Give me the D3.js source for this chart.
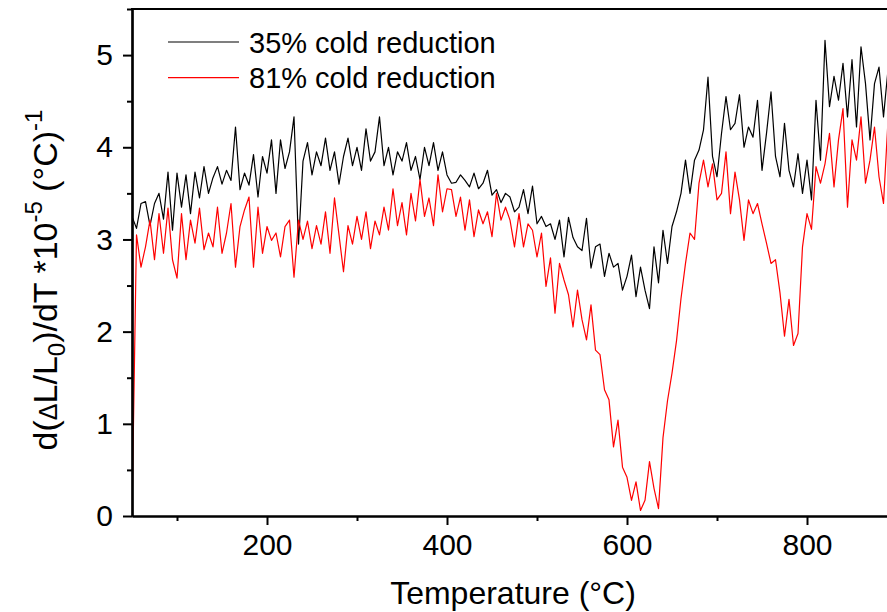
<!DOCTYPE html>
<html>
<head>
<meta charset="utf-8">
<script src="https://cdn.jsdelivr.net/npm/d3@7"></script>
<style>
body { margin: 0; background: #fff; }
text { font-family: Arial, "Liberation Sans", sans-serif; fill: #000; }
</style>
</head>
<body>
<svg></svg>
<script>
// temperature grid (°C) read along the x axis
var temps = [
    50, 55, 60, 65, 70, 75, 80, 85, 90, 95,
    100, 105, 110, 115, 120, 125, 130, 135, 140, 145,
    150, 155, 160, 165, 170, 175, 180, 185, 190, 195,
    200, 205, 210, 215, 220, 225, 230, 235, 240, 245,
    250, 255, 260, 265, 270, 275, 280, 285, 290, 295,
    300, 305, 310, 315, 320, 325, 330, 335, 340, 345,
    350, 355, 360, 365, 370, 375, 380, 385, 390, 395,
    400, 405, 410, 415, 420, 425, 430, 435, 440, 445,
    450, 455, 460, 465, 470, 475, 480, 485, 490, 495,
    500, 505, 510, 515, 520, 525, 530, 535, 540, 545,
    550, 555, 560, 565, 570, 575, 580, 585, 590, 595,
    600, 605, 610, 615, 620, 625, 630, 635, 640, 645,
    650, 655, 660, 665, 670, 675, 680, 685, 690, 695,
    700, 705, 710, 715, 720, 725, 730, 735, 740, 745,
    750, 755, 760, 765, 770, 775, 780, 785, 790, 795,
    800, 805, 810, 815, 820, 825, 830, 835, 840, 845,
    850, 855, 860, 865, 870, 875, 880, 885, 890
];

// 35% cold reduction
var cold35 = [
    3.25, 3.12, 3.39, 3.41, 3.15, 3.39, 3.50, 3.22, 3.73, 3.10,
    3.72, 3.35, 3.70, 3.28, 3.73, 3.45, 3.79, 3.50, 3.67, 3.79,
    3.60, 3.75, 3.64, 4.22, 3.54, 3.72, 3.59, 3.92, 3.46, 3.90,
    3.72, 4.08, 3.50, 4.08, 3.77, 3.95, 4.33, 2.95, 3.85, 4.05,
    3.70, 3.95, 3.80, 4.10, 3.75, 3.95, 3.60, 3.90, 4.10, 3.80,
    4.00, 3.75, 4.20, 3.85, 3.95, 4.33, 3.80, 4.00, 3.70, 3.95,
    3.85, 4.05, 3.75, 3.90, 3.65, 4.00, 3.80, 4.05, 3.75, 3.95,
    3.70, 3.61, 3.62, 3.70, 3.64, 3.57, 3.72, 3.55, 3.61, 3.75,
    3.48, 3.54, 3.40, 3.50, 3.46, 3.30, 3.35, 3.54, 3.28, 3.58,
    3.17, 3.25, 3.14, 3.17, 3.00, 3.21, 2.81, 3.24, 3.02, 2.92,
    2.88, 3.23, 2.69, 2.92, 2.95, 2.60, 2.85, 2.70, 2.74, 2.45,
    2.60, 2.83, 2.38, 2.70, 2.45, 2.25, 2.92, 2.53, 3.10, 2.74,
    3.14, 3.30, 3.50, 3.86, 3.50, 3.86, 3.97, 4.19, 4.76, 3.90,
    3.68, 4.15, 4.55, 4.19, 4.26, 4.57, 4.00, 4.22, 4.11, 4.51,
    3.75, 4.15, 4.60, 3.90, 3.68, 4.26, 3.75, 3.57, 3.93, 3.50,
    3.86, 3.43, 4.51, 3.86, 5.16, 4.44, 4.77, 4.51, 4.91, 4.33,
    4.95, 4.22, 5.09, 4.69, 4.08, 4.69, 4.87, 4.33, 4.84
];

// 81% cold reduction
var cold81 = [
    0.00, 3.05, 2.70, 2.92, 3.21, 2.78, 3.28, 2.85, 3.34, 2.78,
    2.58, 3.28, 2.78, 3.21, 2.96, 3.34, 2.89, 3.07, 2.92, 3.35,
    2.85, 3.07, 3.39, 2.70, 3.14, 3.32, 3.46, 2.70, 3.35, 2.85,
    3.14, 2.99, 3.07, 2.81, 3.14, 3.21, 2.59, 3.21, 3.00, 3.20,
    2.90, 3.15, 2.95, 3.30, 2.85, 3.45, 3.05, 2.65, 3.15, 2.95,
    3.25, 3.00, 3.30, 2.90, 3.20, 3.05, 3.35, 3.10, 3.55, 3.15,
    3.40, 3.05, 3.50, 3.20, 3.65, 3.25, 3.45, 3.15, 3.70, 3.30,
    3.55, 3.54, 3.25, 3.46, 3.10, 3.43, 3.03, 3.32, 3.17, 3.30,
    3.03, 3.50, 3.21, 3.35, 3.21, 2.92, 3.28, 2.92, 3.17, 3.10,
    2.81, 3.07, 2.49, 2.80, 2.20, 2.74, 2.56, 2.40, 2.05, 2.45,
    2.13, 1.91, 2.29, 1.80, 1.75, 1.37, 1.26, 0.75, 1.04, 0.53,
    0.42, 0.17, 0.37, 0.06, 0.17, 0.59, 0.30, 0.08, 0.85, 1.25,
    1.55, 1.90, 2.36, 2.74, 3.07, 3.00, 3.61, 3.86, 3.57, 3.82,
    3.43, 3.50, 3.95, 3.28, 3.73, 3.43, 2.99, 3.43, 3.28, 3.39,
    3.17, 2.96, 2.74, 2.78, 2.42, 1.95, 2.35, 1.85, 1.98, 2.92,
    3.28, 3.11, 3.79, 3.61, 3.82, 4.15, 3.57, 4.08, 4.42, 3.35,
    4.08, 3.86, 4.33, 3.61, 3.86, 4.22, 3.68, 3.39, 4.29
];

var seriesNames = ['35% cold reduction', '81% cold reduction'];
var seriesColors = ['#000000', '#ff0000'];
var xMajor = [200, 400, 600, 800];
var xMinor = [100, 300, 500, 700, 900];
var yMajor = [0, 1, 2, 3, 4, 5];
var yMinor = [0.5, 1.5, 2.5, 3.5, 4.5, 5.5];

var width = 887;
var height = 612;
var plotLeft = 132, plotTop = 9, plotBottom = 516;

var svg = d3.select('svg')
    .attr('width', width)
    .attr('height', height);

var xScale = d3.scaleLinear()
    .domain([50, 900])
    .range([plotLeft, plotLeft + 765]);

var yScale = d3.scaleLinear()
    .domain([0, 5.5])
    .range([plotBottom, plotTop]);

svg.append('clipPath')
    .attr('id', 'plot-clip')
  .append('rect')
    .attr('x', plotLeft)
    .attr('y', plotTop)
    .attr('width', width - plotLeft)
    .attr('height', plotBottom - plotTop);

var series = [cold35, cold81];
var line = d3.line()
    .x(function(d, i) { return xScale(temps[i]); })
    .y(function(d) { return yScale(d); });

// red drawn last so it sits on top like the original
series.forEach(function(values, k) {
    svg.append('path')
        .attr('clip-path', 'url(#plot-clip)')
        .attr('d', line(values))
        .attr('fill', 'none')
        .attr('stroke', seriesColors[k])
        .attr('stroke-width', 1.2)
        .attr('stroke-linejoin', 'round');
});

// axes
svg.append('g')
    .attr('transform', 'translate(0,' + plotBottom + ')')
    .call(d3.axisBottom(xScale).tickValues(xMajor).tickSize(9).tickSizeOuter(0).tickPadding(9));
svg.append('g')
    .attr('transform', 'translate(0,' + plotBottom + ')')
    .call(d3.axisBottom(xScale).tickValues(xMinor).tickSize(5).tickSizeOuter(0).tickFormat(''));

svg.append('g')
    .attr('transform', 'translate(' + plotLeft + ',0)')
    .call(d3.axisLeft(yScale).tickValues(yMajor).tickFormat(d3.format('d'))
        .tickSize(9).tickSizeOuter(0).tickPadding(10));
svg.append('g')
    .attr('transform', 'translate(' + plotLeft + ',0)')
    .call(d3.axisLeft(yScale).tickValues(yMinor).tickSize(5).tickSizeOuter(0).tickFormat(''));

svg.selectAll('.domain').attr('stroke-width', 2.2);
svg.selectAll('.tick line').attr('stroke-width', 2);
svg.selectAll('.tick text')
    .attr('font-family', 'Arial, "Liberation Sans", sans-serif')
    .attr('font-size', 30);

// top frame
svg.append('line')
    .attr('x1', plotLeft - 1).attr('x2', width)
    .attr('y1', plotTop).attr('y2', plotTop)
    .attr('stroke', '#000')
    .attr('stroke-width', 2.2);

// axis titles
svg.append('text')
    .attr('x', 513)
    .attr('y', 604)
    .attr('text-anchor', 'middle')
    .attr('font-size', 32)
    .text('Temperature (°C)');

var yTitle = svg.append('text')
    .attr('transform', 'translate(57,280) rotate(-90)')
    .attr('text-anchor', 'middle')
    .attr('font-size', 34);
yTitle.append('tspan').text('d(');
yTitle.append('tspan').attr('font-size', 25).text('Δ');
yTitle.append('tspan').text('L/L');
yTitle.append('tspan').attr('font-size', 24).attr('dy', 8).text('0');
yTitle.append('tspan').attr('dy', -8).text(')/dT *10');
yTitle.append('tspan').attr('font-size', 24).attr('dy', -15).text('-5');
yTitle.append('tspan').attr('dy', 15).text(' (°C)');
yTitle.append('tspan').attr('font-size', 24).attr('dy', -15).text('-1');

// legend
var legend = svg.append('g');
seriesNames.forEach(function(name, k) {
    var ly = 42 + k * 35.6;
    legend.append('line')
        .attr('x1', 168).attr('x2', 239)
        .attr('y1', ly).attr('y2', ly)
        .attr('stroke', seriesColors[k])
        .attr('stroke-width', 1.2);
    legend.append('text')
        .attr('x', 249)
        .attr('y', ly + 10.5)
        .attr('font-size', 29)
        .text(name);
});
</script>
</body>
</html>
